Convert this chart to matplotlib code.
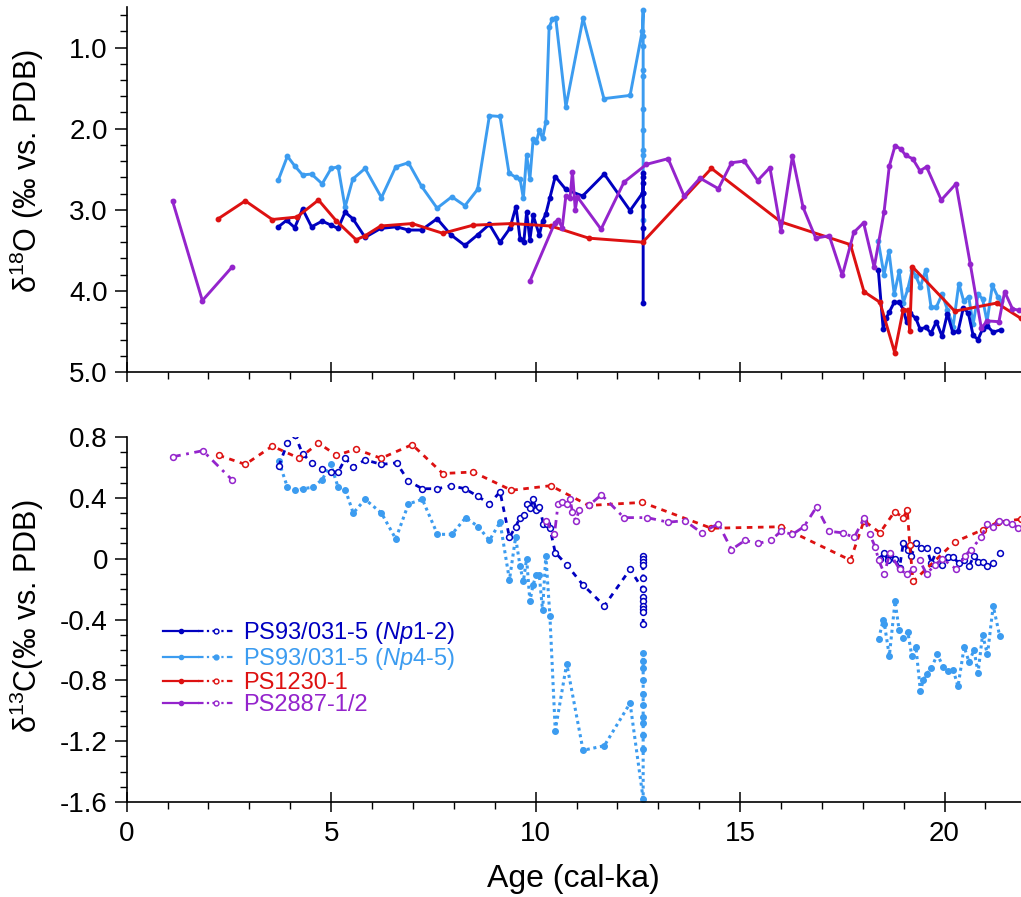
import numpy as np
import matplotlib
matplotlib.use("Agg")
import matplotlib.pyplot as plt
from matplotlib.lines import Line2D
from matplotlib.legend_handler import HandlerTuple
from matplotlib.ticker import MultipleLocator, FixedLocator, FixedFormatter

plt.rcParams['font.family'] = ['Liberation Sans', 'DejaVu Sans']
plt.rcParams['mathtext.fontset'] = 'custom'
plt.rcParams['mathtext.rm'] = 'Liberation Sans'
plt.rcParams['mathtext.it'] = 'Liberation Sans:italic'

nan = np.nan

# colours
c_np12 = '#0000C0'
c_np45 = '#3C9CF0'
c_ps1230 = '#DD1111'
c_ps2887 = '#9424CC'

# ---- d18O (top) ----
np12_age_o = [3.71, 3.91, 4.11, 4.30, 4.52, 4.78, 5.00, 5.17, 5.34, 5.53, 5.83, 6.21, 6.60, 6.89,
              7.21, 7.59, 7.93, 8.27, 8.58, 8.87, 9.13, 9.37, 9.52, 9.62, 9.71, 9.78, 9.86, 9.94,
              10.09, 10.17, 10.25, 10.35, 10.48, 10.74, 11.15, 11.68, 12.31, 12.62,
              12.63, 12.63, 12.63, 12.63, 12.63, 12.63, 12.63, nan,
              18.38, 18.50, 18.57, 18.65, 18.77, 18.89, 18.99, 19.07, 19.15, 19.30, 19.40, 19.54,
              19.67, 19.80, 19.94, 20.07, 20.20, 20.33, 20.46, 20.58, 20.70, 20.82, 20.93, 21.04,
              21.19, 21.37]
np12_d18o = [3.21, 3.13, 3.22, 2.99, 3.21, 3.14, 3.19, 3.23, 3.03, 3.11, 3.34, 3.23, 3.21, 3.25,
             3.25, 3.11, 3.31, 3.44, 3.31, 3.18, 3.40, 3.23, 2.96, 3.36, 3.40, 3.03, 3.37, 3.07,
             3.31, 3.14, 3.05, 2.85, 2.59, 2.75, 2.83, 2.56, 3.01, 2.79,
             2.55, 2.60, 2.67, 2.79, 2.95, 3.23, 4.15, nan,
             3.74, 4.47, 4.34, 4.26, 4.14, 4.14, 4.23, 4.38, 4.27, 4.34, 4.47, 4.45,
             4.52, 4.38, 4.56, 4.28, 4.51, 4.50, 4.21, 4.27, 4.55, 4.60, 4.47, 4.43,
             4.51, 4.48]

np45_age_o = [3.71, 3.93, 4.11, 4.30, 4.52, 4.78, 5.00, 5.17, 5.34, 5.53, 5.83, 6.23, 6.58, 6.89,
              7.21, 7.59, 7.95, 8.27, 8.58, 8.87, 9.13, 9.35, 9.52, 9.62, 9.70, 9.78, 9.86, 9.94,
              10.02, 10.09, 10.17, 10.25, 10.33, 10.41, 10.49, 10.74, 11.16, 11.67, 12.31, 12.61,
              12.63, 12.63, 12.63, 12.63, 12.63, 12.63, 12.63, 12.63, 12.63, 12.63, nan,
              18.38, 18.52, 18.64, 18.77, 18.89, 18.99, 19.10, 19.21, 19.30, 19.41, 19.54, 19.67,
              19.80, 19.94, 20.07, 20.21, 20.35, 20.47, 20.59, 20.70, 20.82, 20.93, 21.04, 21.17,
              21.30, 21.39]
np45_d18o = [2.63, 2.34, 2.46, 2.57, 2.56, 2.68, 2.49, 2.47, 2.97, 2.62, 2.49, 2.85, 2.47, 2.42,
             2.71, 2.98, 2.84, 2.95, 2.75, 1.84, 1.85, 2.55, 2.60, 2.62, 2.86, 2.32, 2.62, 2.13,
             2.16, 2.02, 2.12, 1.92, 0.75, 0.65, 0.63, 1.73, 0.64, 1.63, 1.59, 0.79,
             0.54, 0.86, 0.98, 1.28, 1.35, 1.76, 2.02, 2.26, 2.32, 3.12, nan,
             3.39, 3.80, 3.51, 4.04, 3.76, 4.15, 3.98, 3.74, 3.82, 3.95, 3.74, 4.20,
             4.20, 4.04, 4.23, 4.44, 3.91, 4.13, 4.07, 4.41, 4.04, 4.10, 4.38, 3.93,
             4.07, 4.13]

ps1230_age_o = [2.24, 2.90, 3.56, 4.16, 4.69, 5.13, 5.61, 5.83, 6.21, 6.98, 7.73, 8.47, 9.41,
                10.37, 11.30, 12.62, 14.30, 16.00, 17.70, 18.03, 18.42, 18.78, 18.99, 19.10,
                19.15, 19.21, 20.25, 21.28, 21.87]
ps1230_d18o = [3.11, 2.89, 3.12, 3.09, 2.88, 3.14, 3.37, 3.32, 3.20, 3.17, 3.29, 3.19, 3.17,
               3.20, 3.35, 3.40, 2.49, 3.15, 3.43, 4.01, 4.14, 4.76, 4.23, 4.24,
               4.49, 3.70, 4.25, 4.15, 4.34]

ps2887_age_o = [1.12, 1.85, 2.57, nan,
                9.86, 10.47, 10.55, 10.65, 10.74, 10.84, 10.90, 10.97, 11.02, 11.60, 12.16, 12.71,
                13.24, 13.63, 14.02, 14.47, 14.79, 15.10, 15.43, 15.73, 16.00, 16.28, 16.54, 16.85,
                17.18, 17.50, 17.78, 18.02, 18.28, 18.52, 18.65, 18.79, 18.93, 19.05, 19.22, 19.40,
                19.56, 19.92, 20.28, 20.63, 20.90, 21.04, 21.33, 21.47, 21.66, 21.82]
ps2887_d18o = [2.89, 4.12, 3.71, nan,
               3.88, 3.16, 3.12, 3.22, 2.83, 2.86, 2.53, 3.00, 2.84, 3.24, 2.66, 2.44,
               2.37, 2.83, 2.61, 2.74, 2.42, 2.40, 2.64, 2.48, 3.26, 2.34, 2.97, 3.35,
               3.32, 3.81, 3.28, 3.16, 3.71, 3.03, 2.46, 2.21, 2.25, 2.33, 2.37, 2.52,
               2.47, 2.88, 2.68, 3.67, 4.46, 4.37, 4.38, 4.01, 4.22, 4.24]

# ---- d13C (bottom) ----
np12_age_c = [3.72, 3.93, 4.12, 4.30, 4.53, 4.78, 5.00, 5.17, 5.35, 5.53, 5.83, 6.23, 6.60, 6.89,
              7.23, 7.60, 7.94, 8.27, 8.59, 8.87, 9.13, 9.36, 9.51, 9.62, 9.71, 9.78, 9.86, 9.94,
              10.02, 10.09, 10.19, 10.27, 10.35, 10.48, 10.76, 11.15, 11.68, 12.31, 12.62,
              12.63, 12.63, 12.63, 12.63, 12.63, 12.63, 12.63, 12.63, 12.63, 12.63, 12.63, nan,
              18.42, 18.52, 18.61, 18.66, 18.78, 18.90, 18.99, 19.11, 19.19, 19.30, 19.42, 19.56,
              19.68, 19.82, 19.95, 20.09, 20.21, 20.35, 20.48, 20.60, 20.72, 20.82, 20.93, 21.04,
              21.19, 21.35]
np12_d13c = [0.61, 0.76, 0.81, 0.69, 0.63, 0.59, 0.57, 0.57, 0.66, 0.60, 0.65, 0.62, 0.63, 0.51,
             0.46, 0.46, 0.48, 0.46, 0.41, 0.36, 0.44, 0.14, 0.21, 0.27, 0.29, 0.36, 0.33, 0.39,
             0.32, 0.34, 0.23, 0.23, 0.20, 0.04, -0.04, -0.17, -0.31, -0.07, -0.20,
             0.02, 0.00, -0.02, -0.04, -0.13, -0.25, -0.28, -0.31, -0.33, -0.35, -0.43, nan,
             0.00, 0.04, -0.01, 0.03, 0.00, -0.06, 0.10, 0.06, 0.02, 0.10, 0.07, 0.07,
             -0.03, 0.06, -0.04, 0.01, 0.01, -0.03, -0.01, -0.05, 0.02, -0.02, -0.02, -0.05,
             -0.03, 0.04]

np45_age_c = [3.72, 3.93, 4.12, 4.32, 4.55, 4.78, 4.99, 5.17, 5.35, 5.54, 5.83, 6.23, 6.58, 6.89,
              7.23, 7.60, 7.95, 8.29, 8.60, 8.87, 9.13, 9.36, 9.51, 9.62, 9.70, 9.78, 9.86, 9.94,
              10.01, 10.09, 10.17, 10.25, 10.35, 10.48, 10.76, 11.16, 11.68, 12.31, 12.63,
              12.63, 12.63, 12.63, 12.63, 12.63, 12.63, 12.63, 12.63, 12.63, 12.63, nan,
              18.39, 18.50, 18.53, 18.65, 18.79, 18.89, 18.99, 19.10, 19.20, 19.30, 19.41, 19.48,
              19.56, 19.68, 19.82, 19.97, 20.09, 20.21, 20.33, 20.48, 20.60, 20.72, 20.82, 20.93,
              21.05, 21.19, 21.35]
np45_d13c = [0.64, 0.47, 0.45, 0.46, 0.47, 0.52, 0.62, 0.47, 0.45, 0.30, 0.39, 0.30, 0.13, 0.36,
             0.39, 0.16, 0.16, 0.27, 0.21, 0.12, 0.24, -0.14, 0.14, -0.05, -0.15, 0.00, -0.28, -0.17,
             -0.11, -0.11, -0.34, 0.02, -0.38, -1.13, -0.69, -1.26, -1.23, -0.95, -1.58,
             -1.25, -1.16, -1.08, -1.04, -0.96, -0.89, -0.80, -0.72, -0.67, -0.62, nan,
             -0.53, -0.40, -0.43, -0.64, -0.28, -0.47, -0.52, -0.48, -0.64, -0.58, -0.87, -0.80,
             -0.76, -0.72, -0.63, -0.71, -0.74, -0.73, -0.84, -0.58, -0.68, -0.60, -0.75, -0.50,
             -0.63, -0.31, -0.51]

ps1230_age_c = [2.25, 2.90, 3.56, 4.22, 4.69, 5.13, 5.61, 6.22, 6.98, 7.73, 8.47, 9.41, 10.37,
                11.30, 12.61, 14.30, 16.00, 17.70, 18.03, 18.42, 18.78, 18.99, 19.09, 19.15,
                19.23, 20.25, 20.93, 21.30, 21.87]
ps1230_d13c = [0.68, 0.62, 0.74, 0.66, 0.76, 0.68, 0.72, 0.66, 0.75, 0.56, 0.57, 0.45, 0.48,
               0.35, 0.37, 0.20, 0.21, -0.01, 0.25, 0.17, 0.31, 0.27, 0.32, 0.09,
               -0.15, 0.11, 0.19, 0.24, 0.26]

ps2887_age_c = [1.12, 1.86, 2.57, nan,
                10.25, 10.46, 10.55, 10.65, 10.76, 10.84, 10.90, 10.98, 11.07, 11.30, 11.61, 12.16,
                12.73, 13.24, 13.65, 14.06, 14.47, 14.79, 15.12, 15.44, 15.75, 16.00, 16.28, 16.56,
                16.87, 17.18, 17.51, 17.79, 18.04, 18.17, 18.30, 18.39, 18.53, 18.66, 18.90, 19.07,
                19.23, 19.39, 19.56, 19.77, 19.95, 20.29, 20.51, 20.64, 20.90, 21.04, 21.19, 21.33,
                21.50, 21.66, 21.80]
ps2887_d13c = [0.67, 0.71, 0.52, nan,
               0.25, 0.16, 0.36, 0.37, 0.36, 0.39, 0.31, 0.25, 0.32, 0.35, 0.42, 0.27,
               0.27, 0.24, 0.25, 0.17, 0.23, 0.06, 0.12, 0.10, 0.12, 0.18, 0.16, 0.21,
               0.34, 0.18, 0.17, 0.14, 0.27, 0.16, 0.08, -0.01, -0.10, 0.04, -0.07, -0.10,
               -0.07, -0.01, -0.10, -0.04, 0.00, -0.07, 0.02, 0.06, 0.14, 0.23, 0.21, 0.25,
               0.24, 0.23, 0.20]

labels = [r'PS93/031-5 ($\it{Np}$1-2)', r'PS93/031-5 ($\it{Np}$4-5)', 'PS1230-1', 'PS2887-1/2']
colors = [c_np12, c_np45, c_ps1230, c_ps2887]

fig = plt.figure(figsize=(10.21, 8.97), dpi=100)
ax1 = fig.add_axes([0.1241, 0.5853, 0.8759, 0.4069])
ax2 = fig.add_axes([0.1241, 0.1059, 0.8759, 0.4069])

lw = 2.1
# top panel, solid lines with small filled dots
top = [(np45_age_o, np45_d18o, c_np45), (np12_age_o, np12_d18o, c_np12),
       (ps1230_age_o, ps1230_d18o, c_ps1230), (ps2887_age_o, ps2887_d18o, c_ps2887)]
for x, y, c in top:
    ax1.plot(x, y, '-', color=c, lw=lw, marker='o', ms=3.2, mec=c, mfc=c)

# bottom panel, dashed lines with open circles (Np4-5 dotted with filled dots)
ax2.plot(np45_age_c, np45_d13c, color=c_np45, lw=2.2, ls=(0, (1.0, 1.2)),
         marker='o', ms=4, mfc=c_np45, mec=c_np45)
ax2.plot(np12_age_c, np12_d13c, color=c_np12, lw=2.0, ls=(0, (2.0, 2.0)),
         marker='o', ms=4.2, mfc='white', mec=c_np12, mew=1.1)
ax2.plot(ps1230_age_c, ps1230_d13c, color=c_ps1230, lw=2.0, ls=(0, (2.0, 2.0)),
         marker='o', ms=4.2, mfc='white', mec=c_ps1230, mew=1.1)
ax2.plot(ps2887_age_c, ps2887_d13c, color=c_ps2887, lw=2.0, ls=(0, (3.0, 2.0, 1.0, 2.0)),
         marker='o', ms=4.2, mfc='white', mec=c_ps2887, mew=1.1)

for ax in (ax1, ax2):
    ax.set_xlim(0, 21.87)
    ax.spines['top'].set_visible(False)
    ax.spines['right'].set_visible(False)
    ax.spines['left'].set_linewidth(1.2)
    ax.spines['bottom'].set_linewidth(1.2)
    ax.xaxis.set_major_locator(MultipleLocator(5))
    ax.xaxis.set_minor_locator(MultipleLocator(1))
    ax.tick_params(axis='x', which='major', direction='inout', length=14, width=1.1,
                   labelsize=20, pad=7)
    ax.tick_params(axis='x', which='minor', direction='out', length=5, width=1.0)
    ax.tick_params(axis='y', which='major', direction='out', length=8.5, width=1.1,
                   labelsize=20, pad=5)
    ax.tick_params(axis='y', which='minor', direction='out', length=5, width=1.0)

ax1.set_ylim(5.0, 0.5)
ax1.yaxis.set_major_locator(FixedLocator([1.0, 2.0, 3.0, 4.0, 5.0]))
ax1.yaxis.set_major_formatter(FixedFormatter(['1.0', '2.0', '3.0', '4.0', '5.0']))
ax1.yaxis.set_minor_locator(MultipleLocator(0.2))
ax1.tick_params(axis='x', labelbottom=False)
ax1.set_ylabel('δ$^{18}$O (‰ vs. PDB)', fontsize=22)
ax1.yaxis.set_label_coords(-0.09, 0.55)

ax2.set_ylim(-1.6, 0.8)
ytk = [0.8, 0.4, 0.0, -0.4, -0.8, -1.2, -1.6]
ax2.yaxis.set_major_locator(FixedLocator(ytk))
ax2.yaxis.set_major_formatter(FixedFormatter(['0.8', '0.4', '0', '-0.4', '-0.8', '-1.2', '-1.6']))
ax2.yaxis.set_minor_locator(MultipleLocator(0.1))
ax2.set_ylabel('δ$^{13}$C(‰ vs. PDB)', fontsize=22)
ax2.yaxis.set_label_coords(-0.09, 0.51)
ax2.set_xlabel('Age (cal-ka)', fontsize=23, labelpad=12)

# legend: solid segment + dashed segment per core
handles = []
for i, c in enumerate(colors):
    solid = Line2D([], [], color=c, lw=1.6, marker='o', ms=3, mfc=c, mec=c)
    mfc2 = c if c == c_np45 else 'white'
    dashed = Line2D([], [], color=c, lw=1.6, ls=(0, (2.5, 1.5, 1, 1.5)),
                    marker='o', ms=3.5, mfc=mfc2, mec=c)
    handles.append((solid, dashed))
leg = ax2.legend(handles, labels, handler_map={tuple: HandlerTuple(ndivide=None, pad=0.0)},
                 loc='upper left', bbox_to_anchor=(0.03, 0.525), frameon=False,
                 fontsize=17, handlelength=3.0, handletextpad=0.4, labelspacing=0.0,
                 numpoints=1, labelcolor=colors, borderaxespad=0)

fig.savefig('out.png', dpi=100)
